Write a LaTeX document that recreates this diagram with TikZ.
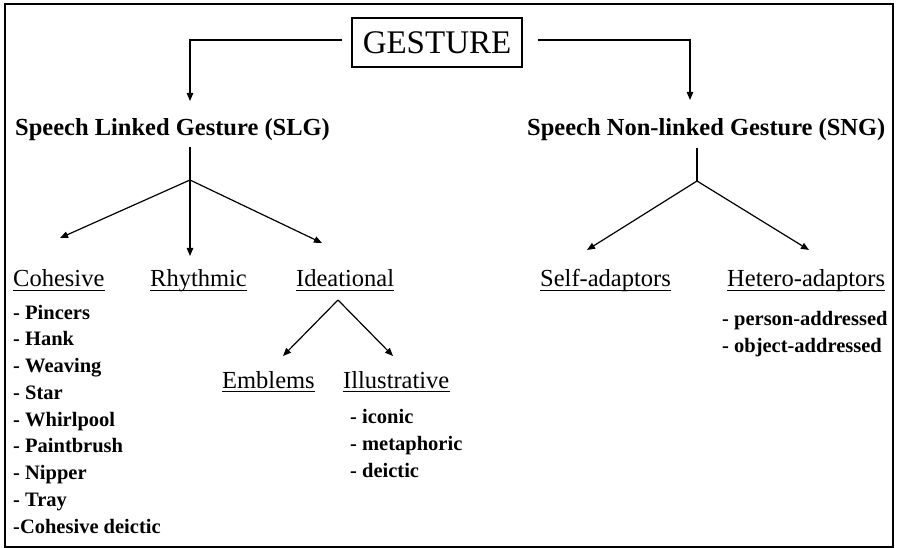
\documentclass[tikz,border=0pt]{standalone}
\usepackage{fontspec}
\setmainfont{Liberation Serif}
\usetikzlibrary{arrows.meta}
\begin{document}
\begin{tikzpicture}[x=1pt,y=-1pt,
  conn/.style={line width=1.2pt},
  arr/.style={conn,-{Triangle[length=8pt,width=6.5pt]}},
  titlebox/.style={draw,line width=1.1pt,inner sep=0pt,minimum width=170pt,minimum height=49pt,
    font=\fontsize{33}{36}\selectfont},
  head/.style={inner sep=0pt,anchor=base west,font=\fontsize{24.5}{28}\selectfont\bfseries},
  cat/.style={inner sep=0pt,anchor=base west,font=\fontsize{24.5}{28}\selectfont},
  item/.style={inner sep=0pt,anchor=base west,font=\fontsize{20.5}{24}\selectfont\bfseries},
  uline/.style={line width=1.2pt}]

\useasboundingbox (0,0) rectangle (897,548);
\draw[line width=2pt] (4.5,4) rectangle (892.5,546.5);

% root
\node[titlebox] (gesture) at (437,42.5) {GESTURE};

% first level
\node[head] (slg) at (15,136) {Speech Linked Gesture (SLG)};
\node[head] (sng) at (527,136) {Speech Non-linked Gesture (SNG)};

\coordinate (slgin) at (190,101);
\coordinate (sngin) at (690,100);
\draw[arr] ([xshift=-9pt,yshift=2.5pt]gesture.west) -| (slgin);
\draw[arr] ([xshift=15pt,yshift=2.5pt]gesture.east) -| (sngin);

% second level
\node[cat] (coh) at (13,287) {Cohesive};
\node[cat] (rhy) at (150,287) {Rhythmic};
\node[cat] (ide) at (296,287) {Ideational};
\node[cat] (self) at (540,287) {Self-adaptors};
\node[cat] (het) at (727,287) {Hetero-adaptors};

% third level
\node[cat] (emb) at (222,388) {Emblems};
\node[cat] (ill) at (343,388) {Illustrative};

\foreach \n in {coh,rhy,ide,self,het,emb,ill}
  \draw[uline] ([yshift=-3.5pt]\n.base west) -- ([yshift=-3.5pt]\n.base east);

% SLG fork
\coordinate (slgstem) at (190,147);
\coordinate (slgfork) at (190,180);
\coordinate (cohin) at (60,238);
\coordinate (rhyin) at (190,256);
\coordinate (idein) at (322,243);
\draw[conn] (slgstem) -- (slgfork);
\draw[arr] (slgfork) -- (cohin);
\draw[arr] (slgfork) -- (rhyin);
\draw[arr] (slgfork) -- (idein);

% SNG fork
\coordinate (sngstem) at (697,148);
\coordinate (sngfork) at (697,181);
\coordinate (selfin) at (587,250);
\coordinate (hetin) at (809,250);
\draw[conn] (sngstem) -- (sngfork);
\draw[arr] (sngfork) -- (selfin);
\draw[arr] (sngfork) -- (hetin);

% Ideational fork
\coordinate (idefork) at (338,300);
\coordinate (embin) at (283,356);
\coordinate (illin) at (393,356);
\draw[arr] (idefork) -- (embin);
\draw[arr] (idefork) -- (illin);

% lists
\foreach \t [count=\i] in {- Pincers,- Hank,- Weaving,- Star,- Whirlpool,- Paintbrush,- Nipper,- Tray,-Cohesive deictic}
  \node[item] (coh\i) at (13,{319+26.75*(\i-1)}) {\t};

\node[item] (ill1) at (350,423) {- iconic};
\node[item] (ill2) at (350,450) {- metaphoric};
\node[item] (ill3) at (350,477) {- deictic};

\node[item] (het1) at (722,325) {- person-addressed};
\node[item] (het2) at (722,352) {- object-addressed};
\end{tikzpicture}
\end{document}
